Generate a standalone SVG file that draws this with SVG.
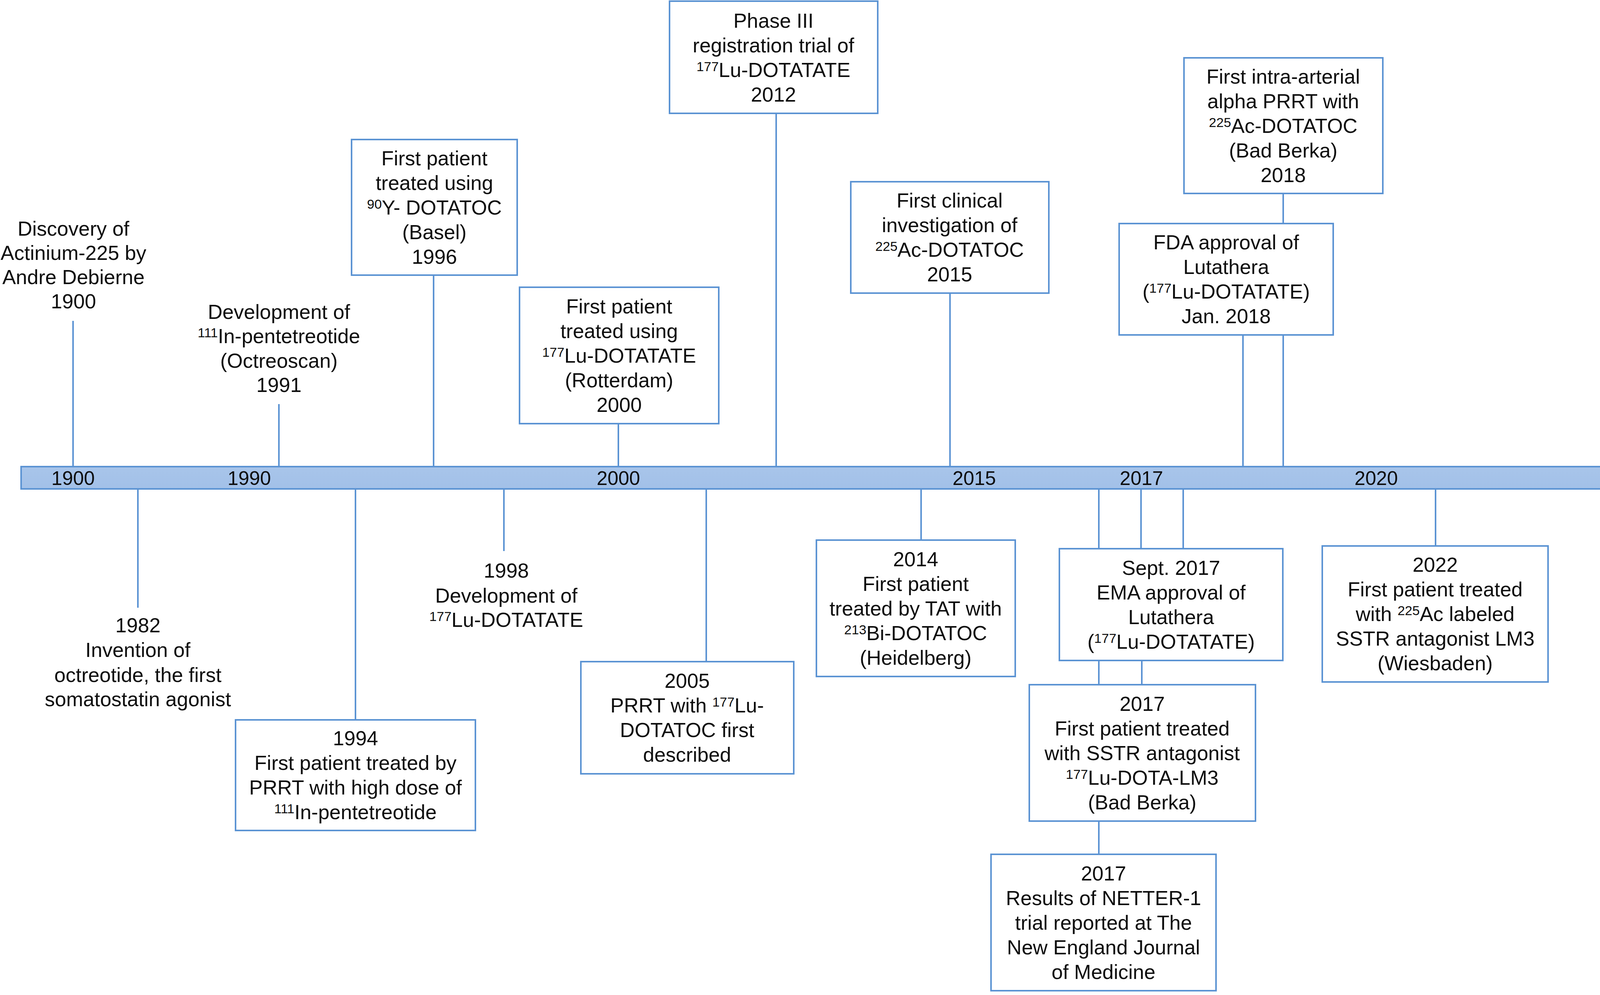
<svg xmlns="http://www.w3.org/2000/svg" width="4320" height="2546" viewBox="0 0 4320 2546">
<style>
.box{fill:#ffffff;stroke:#5b93d3;stroke-width:4}
.conn line{stroke:#5b93d3;stroke-width:4}
text{font-family:"Liberation Sans",Arial,sans-serif;font-size:52px;fill:#0d0d0d;text-anchor:middle}
.yr{font-size:50px}
.sup{font-size:34px}
</style>
<defs>
<linearGradient id="barg" x1="0" y1="0" x2="0" y2="1">
<stop offset="0" stop-color="#abc7eb"/>
<stop offset="1" stop-color="#9fbee7"/>
</linearGradient>
</defs>
<rect x="0" y="0" width="4320" height="2546" fill="#ffffff"/>

<g id="connectors" class="conn">
<line x1="187" y1="821" x2="187" y2="1194"/>
<line x1="714" y1="1034" x2="714" y2="1194"/>
<line x1="1110" y1="704" x2="1110" y2="1194"/>
<line x1="1583" y1="1084" x2="1583" y2="1194"/>
<line x1="1987" y1="290" x2="1987" y2="1194"/>
<line x1="2432" y1="750" x2="2432" y2="1194"/>
<line x1="3285" y1="495" x2="3285" y2="572"/>
<line x1="3182" y1="857" x2="3182" y2="1194"/>
<line x1="3285" y1="857" x2="3285" y2="1194"/>
<line x1="353" y1="1250" x2="353" y2="1555"/>
<line x1="910" y1="1250" x2="910" y2="1842"/>
<line x1="1290" y1="1250" x2="1290" y2="1410"/>
<line x1="1808" y1="1250" x2="1808" y2="1693"/>
<line x1="2358" y1="1250" x2="2358" y2="1382"/>
<line x1="2813" y1="1250" x2="2813" y2="1404"/>
<line x1="2921" y1="1250" x2="2921" y2="1404"/>
<line x1="3029" y1="1250" x2="3029" y2="1404"/>
<line x1="2813" y1="1689" x2="2813" y2="1752"/>
<line x1="2923" y1="1689" x2="2923" y2="1752"/>
<line x1="2813" y1="2101" x2="2813" y2="2186"/>
<line x1="3675" y1="1250" x2="3675" y2="1397"/>
</g>

<g id="timeline">
<path d="M54,1194 H4257 V1163 L4313,1223 L4257,1282 V1251 H54 Z" fill="url(#barg)" stroke="#5b93d3" stroke-width="4" stroke-linejoin="miter"/>
<text class="yr" x="187" y="1241">1900</text>
<text class="yr" x="638" y="1241">1990</text>
<text class="yr" x="1583" y="1241">2000</text>
<text class="yr" x="2494" y="1241">2015</text>
<text class="yr" x="2922" y="1241">2017</text>
<text class="yr" x="3523" y="1241">2020</text>
</g>

<g id="n1900">
<text x="188" y="603">Discovery of</text>
<text x="188" y="665">Actinium-225 by</text>
<text x="188" y="727">Andre Debierne</text>
<text x="188" y="789">1900</text>
</g>

<g id="n1991">
<text x="714" y="816">Development of</text>
<text x="714" y="878"><tspan class="sup" dy="-15">111</tspan><tspan dy="15">In-pentetreotide</tspan></text>
<text x="714" y="941">(Octreoscan)</text>
<text x="714" y="1003">1991</text>
</g>

<g id="n1996">
<rect class="box" x="900" y="357" width="424" height="347"/>
<text x="1112" y="423">First patient</text>
<text x="1112" y="486">treated using</text>
<text x="1112" y="549"><tspan class="sup" dy="-15">90</tspan><tspan dy="15">Y- DOTATOC</tspan></text>
<text x="1112" y="612">(Basel)</text>
<text x="1112" y="675">1996</text>
</g>

<g id="n2000">
<rect class="box" x="1330" y="735" width="510" height="349"/>
<text x="1585" y="802">First patient</text>
<text x="1585" y="865">treated using</text>
<text x="1585" y="928"><tspan class="sup" dy="-15">177</tspan><tspan dy="15">Lu-DOTATATE</tspan></text>
<text x="1585" y="991">(Rotterdam)</text>
<text x="1585" y="1054">2000</text>
</g>

<g id="n2012">
<rect class="box" x="1714" y="3" width="533" height="287"/>
<text x="1980" y="71">Phase III</text>
<text x="1980" y="134">registration trial of</text>
<text x="1980" y="197"><tspan class="sup" dy="-15">177</tspan><tspan dy="15">Lu-DOTATATE</tspan></text>
<text x="1980" y="260">2012</text>
</g>

<g id="n2015">
<rect class="box" x="2178" y="465" width="507" height="285"/>
<text x="2431" y="531">First clinical</text>
<text x="2431" y="594">investigation of</text>
<text x="2431" y="657"><tspan class="sup" dy="-15">225</tspan><tspan dy="15">Ac-DOTATOC</tspan></text>
<text x="2431" y="720">2015</text>
</g>

<g id="n2018ia">
<rect class="box" x="3031" y="148" width="509" height="347"/>
<text x="3285" y="214">First intra-arterial</text>
<text x="3285" y="277">alpha PRRT with</text>
<text x="3285" y="340"><tspan class="sup" dy="-15">225</tspan><tspan dy="15">Ac-DOTATOC</tspan></text>
<text x="3285" y="403">(Bad Berka)</text>
<text x="3285" y="466">2018</text>
</g>

<g id="n2018fda">
<rect class="box" x="2865" y="572" width="548" height="285"/>
<text x="3139" y="638">FDA approval of</text>
<text x="3139" y="701">Lutathera</text>
<text x="3139" y="764">(<tspan class="sup" dy="-15">177</tspan><tspan dy="15">Lu-DOTATATE)</tspan></text>
<text x="3139" y="827">Jan. 2018</text>
</g>

<g id="n1982">
<text x="353" y="1618">1982</text>
<text x="353" y="1681">Invention of</text>
<text x="353" y="1745">octreotide, the first</text>
<text x="353" y="1807">somatostatin agonist</text>
</g>

<g id="n1994">
<rect class="box" x="603" y="1842" width="614" height="283"/>
<text x="910" y="1907">1994</text>
<text x="910" y="1970">First patient treated by</text>
<text x="910" y="2033">PRRT with high dose of</text>
<text x="910" y="2096"><tspan class="sup" dy="-15">111</tspan><tspan dy="15">In-pentetreotide</tspan></text>
</g>

<g id="n1998">
<text x="1296" y="1478">1998</text>
<text x="1296" y="1542">Development of</text>
<text x="1296" y="1604"><tspan class="sup" dy="-15">177</tspan><tspan dy="15">Lu-DOTATATE</tspan></text>
</g>

<g id="n2005">
<rect class="box" x="1487" y="1693" width="545" height="287"/>
<text x="1759" y="1760">2005</text>
<text x="1759" y="1823">PRRT with <tspan class="sup" dy="-15">177</tspan><tspan dy="15">Lu-</tspan></text>
<text x="1759" y="1886">DOTATOC first</text>
<text x="1759" y="1949">described</text>
</g>

<g id="n2014">
<rect class="box" x="2090" y="1382" width="509" height="349"/>
<text x="2344" y="1449">2014</text>
<text x="2344" y="1512">First patient</text>
<text x="2344" y="1575">treated by TAT with</text>
<text x="2344" y="1638"><tspan class="sup" dy="-15">213</tspan><tspan dy="15">Bi-DOTATOC</tspan></text>
<text x="2344" y="1701">(Heidelberg)</text>
</g>

<g id="n2017ema">
<rect class="box" x="2712" y="1404" width="572" height="286"/>
<text x="2998" y="1471">Sept. 2017</text>
<text x="2998" y="1534">EMA approval of</text>
<text x="2998" y="1597">Lutathera</text>
<text x="2998" y="1660">(<tspan class="sup" dy="-15">177</tspan><tspan dy="15">Lu-DOTATATE)</tspan></text>
</g>

<g id="n2017sstr">
<rect class="box" x="2635" y="1752" width="579" height="349"/>
<text x="2924" y="1819">2017</text>
<text x="2924" y="1882">First patient treated</text>
<text x="2924" y="1945">with SSTR antagonist</text>
<text x="2924" y="2008"><tspan class="sup" dy="-15">177</tspan><tspan dy="15">Lu-DOTA-LM3</tspan></text>
<text x="2924" y="2071">(Bad Berka)</text>
</g>

<g id="n2017netter">
<rect class="box" x="2537" y="2186" width="576" height="349"/>
<text x="2825" y="2253">2017</text>
<text x="2825" y="2316">Results of NETTER-1</text>
<text x="2825" y="2379">trial reported at The</text>
<text x="2825" y="2442">New England Journal</text>
<text x="2825" y="2505">of Medicine</text>
</g>

<g id="n2022">
<rect class="box" x="3385" y="1397" width="578" height="348"/>
<text x="3674" y="1463">2022</text>
<text x="3674" y="1526">First patient treated</text>
<text x="3674" y="1589">with <tspan class="sup" dy="-15">225</tspan><tspan dy="15">Ac labeled</tspan></text>
<text x="3674" y="1652">SSTR antagonist LM3</text>
<text x="3674" y="1715">(Wiesbaden)</text>
</g>
</svg>
